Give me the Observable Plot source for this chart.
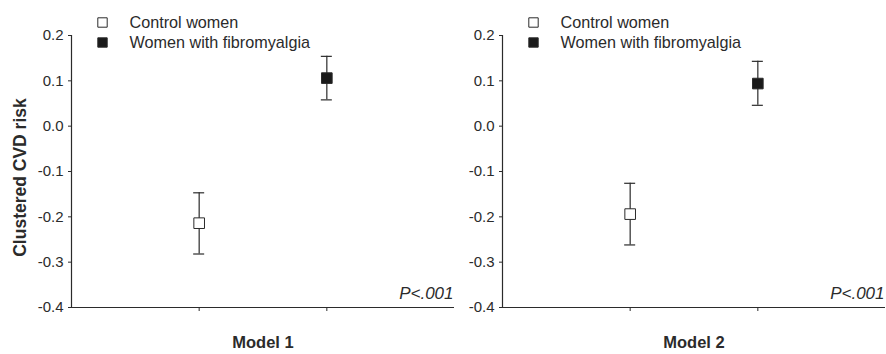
<!DOCTYPE html>
<html>
<head>
<meta charset="utf-8">
<script src="https://cdn.jsdelivr.net/npm/d3@7"></script>
<script src="https://cdn.jsdelivr.net/npm/@observablehq/plot@0.6"></script>
<style>
  html, body { margin: 0; padding: 0; background: #fff; }
  svg { font-family: Arial, "Liberation Sans", sans-serif; }
</style>
</head>
<body>
<div id="chart"></div>
<script>
const models = ["Model 1", "Model 2"];
const groups = ["Control women", "Women with fibromyalgia"];
const model1Mean = [-0.214, 0.106];
const model1Low = [-0.282, 0.058];
const model1High = [-0.147, 0.154];
const model2Mean = [-0.194, 0.094];
const model2Low = [-0.262, 0.046];
const model2High = [-0.126, 0.143];
const yTicks = [-0.4, -0.3, -0.2, -0.1, 0, 0.1, 0.2];
const pValues = ["P<.001", "P<.001"];
const yLabel = "Clustered CVD risk";
const groupFills = ["#ffffff", "#1a1a1a"];

const means = [model1Mean, model2Mean];
const lows = [model1Low, model2Low];
const highs = [model1High, model2High];
const rows = [];
models.forEach((m, i) => groups.forEach((g, j) => rows.push({
  model: m, group: g, idx: j + 1, mean: means[i][j], lo: lows[i][j], hi: highs[i][j], fill: groupFills[j]
})));
const groupTicks = groups.map((g, j) => j + 1);
const ink = "#2b2b2b";

const chart = Plot.plot({
  width: 886,
  height: 354,
  marginLeft: 71,
  marginRight: 0,
  marginTop: 35,
  marginBottom: 47,
  style: {fontFamily: "Arial, 'Liberation Sans', sans-serif", color: ink, background: "#fff"},
  fx: {domain: models, paddingInner: 0.111, paddingOuter: 0},
  x: {domain: [0, groups.length + 1]},
  y: {domain: [-0.4, 0.2]},
  marks: [
    Plot.ruleX([0], {stroke: ink, strokeWidth: 1.2}),
    Plot.ruleY([-0.4], {stroke: ink, strokeWidth: 1.2}),
    Plot.axisY({facetAnchor: null, ticks: yTicks, tickFormat: d => d.toFixed(1), tickSize: 3, tickPadding: 5, fontSize: 15, label: null, stroke: ink}),
    Plot.axisX({ticks: groupTicks, tickFormat: () => "", tickSize: 4, label: null, stroke: ink}),
    Plot.axisFx({anchor: "bottom", tickSize: 0, tickPadding: 29, fontSize: 16.5, fontWeight: "bold", label: null}),
    // error bars
    Plot.ruleX(rows, {fx: "model", x: "idx", y1: "lo", y2: "hi", stroke: ink, strokeWidth: 1.2}),
    Plot.ruleY(rows, {fx: "model", x1: "idx", x2: "idx", y: "lo", insetLeft: -5.5, insetRight: -5.5, stroke: ink, strokeWidth: 1.2}),
    Plot.ruleY(rows, {fx: "model", x1: "idx", x2: "idx", y: "hi", insetLeft: -5.5, insetRight: -5.5, stroke: ink, strokeWidth: 1.2}),
    Plot.dot(rows, {fx: "model", x: "idx", y: "mean", symbol: "square", r: 6, fill: "fill", stroke: ink, strokeWidth: 1}),
    // legend
    Plot.dot([groups[0]], {frameAnchor: "top-left", dx: 31, dy: -13, symbol: "square", r: 5.3, fill: groupFills[0], stroke: ink, strokeWidth: 1}),
    Plot.dot([groups[1]], {frameAnchor: "top-left", dx: 31, dy: 7, symbol: "square", r: 5.3, fill: groupFills[1], stroke: ink, strokeWidth: 1}),
    Plot.text([groups[0]], {frameAnchor: "top-left", text: d => d, dx: 58, dy: -13, textAnchor: "start", lineAnchor: "middle", fontSize: 16.2, fill: ink}),
    Plot.text([groups[1]], {frameAnchor: "top-left", text: d => d, dx: 58, dy: 7, textAnchor: "start", lineAnchor: "middle", fontSize: 16.2, fill: ink}),
    // p-values
    Plot.text(models, {fx: d => d, text: (d, i) => pValues[i], frameAnchor: "bottom-right", textAnchor: "end", lineAnchor: "bottom", dx: -1, dy: -9, fontSize: 17, fontStyle: "italic", fill: ink}),
    // y-axis title
    Plot.text([models[0]], {fx: d => d, text: () => yLabel, frameAnchor: "left", rotate: -90, dx: -51, dy: 6, textAnchor: "middle", lineAnchor: "middle", fontSize: 17.5, fontWeight: "bold", fill: ink})
  ]
});
document.getElementById("chart").appendChild(chart);
</script>
</body>
</html>
